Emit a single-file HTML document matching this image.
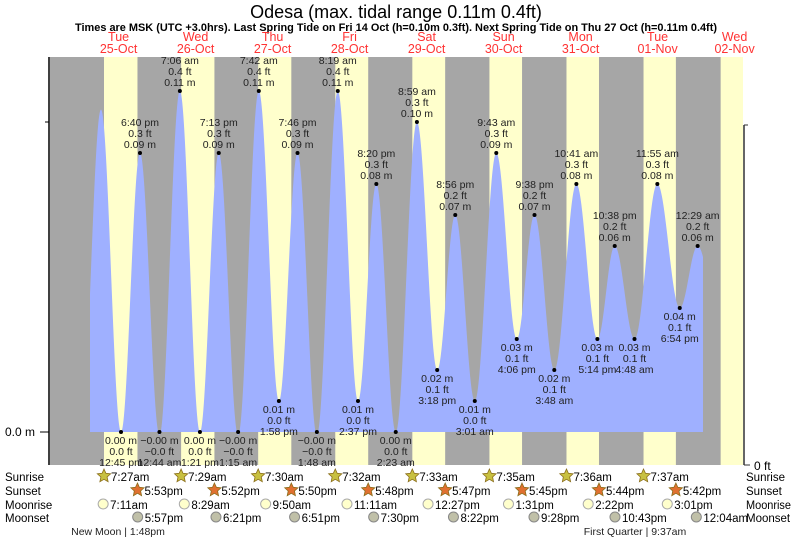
<!DOCTYPE html>
<html><head><meta charset="utf-8"><style>
body{margin:0;background:#fff;}
svg text{font-family:"Liberation Sans",sans-serif;}
</style></head><body>
<svg id="chart" width="793" height="539" viewBox="0 0 793 539" xmlns="http://www.w3.org/2000/svg">
<text x="396" y="18" font-size="18" text-anchor="middle" fill="#000">Odesa (max. tidal range 0.11m 0.4ft)</text>
<text x="75" y="31" font-size="11" font-weight="bold" textLength="642" lengthAdjust="spacingAndGlyphs" fill="#000">Times are MSK (UTC +3.0hrs). Last Spring Tide on Fri 14 Oct (h=0.10m 0.3ft). Next Spring Tide on Thu 27 Oct (h=0.11m 0.4ft)</text>
<g id="bands"></g>
<path id="tide" fill="#9fb0ff"></path>
<g id="marks"></g>
<line x1="49" y1="57" x2="49" y2="465" stroke="#000" stroke-width="1.5"/>
<line x1="45" y1="122" x2="49" y2="122" stroke="#000"/>
<line x1="40" y1="432" x2="49" y2="432" stroke="#000"/>
<text x="5" y="436" font-size="12">0.0 m</text>
<line x1="744" y1="125" x2="744" y2="465" stroke="#333" stroke-width="1.5"/>
<line x1="744" y1="125" x2="748" y2="125" stroke="#333"/>
<line x1="744" y1="465" x2="750" y2="465" stroke="#333"/>
<text x="754" y="470" font-size="12">0 ft</text>
<g font-size="11.5" fill="#000">
<text x="5" y="481">Sunrise</text>
<text x="5" y="495">Sunset</text>
<text x="5" y="509">Moonrise</text>
<text x="5" y="522">Moonset</text>
<text x="746" y="481">Sunrise</text>
<text x="746" y="495">Sunset</text>
<text x="746" y="509" textLength="45" lengthAdjust="spacingAndGlyphs">Moonrise</text>
<text x="746" y="522">Moonset</text>
</g>
<g font-size="10.5" fill="#222">
<text x="118" y="535" text-anchor="middle">New Moon | 1:48pm</text>
<text x="635" y="535" text-anchor="middle">First Quarter | 9:37am</text>
</g>
<g id="astro"></g>
</svg>
<script>
// data
const dayNames = ["Tue","Wed","Thu","Fri","Sat","Sun","Mon","Tue","Wed"];
const dayDates = ["25-Oct","26-Oct","27-Oct","28-Oct","29-Oct","30-Oct","31-Oct","01-Nov","02-Nov"];
const sunriseH = [7.45,7.483,7.5,7.533,7.55,7.583,7.6,7.617,7.65];
const sunsetH = [17.883,17.867,17.833,17.8,17.783,17.75,17.733,17.7,17.683];
const sunriseLabels = ["7:27am","7:29am","7:30am","7:32am","7:33am","7:35am","7:36am","7:37am"];
const sunsetLabels = ["5:53pm","5:52pm","5:50pm","5:48pm","5:47pm","5:45pm","5:44pm","5:42pm"];
const moonriseH = [7.183,8.483,9.833,11.183,12.45,13.517,14.367,15.017];
const moonriseLabels = ["7:11am","8:29am","9:50am","11:11am","12:27pm","1:31pm","2:22pm","3:01pm"];
const moonsetH = [17.95,18.35,18.85,19.5,20.367,21.467,22.717,24.067];
const moonsetLabels = ["5:57pm","6:21pm","6:51pm","7:30pm","8:22pm","9:28pm","10:43pm","12:04am"];
// tide extremes: hours since 25-Oct 00:00, height in m
const tideHours = [0.25,6.5,12.75,18.667,24.733,31.1,37.35,43.217,49.25,55.7,61.967,67.767,73.8,80.317,86.617,92.333,98.383,104.983,111.3,116.933,123.017,129.717,136.1,141.633,147.8,154.683,161.233,166.633,172.8,179.917,186.9,192.483,198.5];
const tideHeights = [0.0,0.104,0.0,0.09,-0.001,0.11,0.0,0.09,-0.001,0.11,0.01,0.09,-0.001,0.11,0.01,0.08,0.0,0.10,0.02,0.07,0.01,0.09,0.03,0.07,0.02,0.08,0.03,0.06,0.03,0.08,0.04,0.06,0.04];
const tideLabels = ["","","12:45 pm","6:40 pm","12:44 am","7:06 am","1:21 pm","7:13 pm","1:15 am","7:42 am","1:58 pm","7:46 pm","1:48 am","8:19 am","2:37 pm","8:20 pm","2:23 am","8:59 am","3:18 pm","8:56 pm","3:01 am","9:43 am","4:06 pm","9:38 pm","3:48 am","10:41 am","5:14 pm","10:38 pm","4:48 am","11:55 am","6:54 pm","12:29 am",""];

const NS="http://www.w3.org/2000/svg";
const X0=50, X1=743, YT=57, YB=465, Y0=432;
function xs(h){return 80.1+77*h/24;}
function ys(m){return Y0-m*3100;}
function mk(tag,attrs,parent){const e=document.createElementNS(NS,tag);for(const k in attrs)e.setAttribute(k,attrs[k]);parent.appendChild(e);return e;}
const bands=document.getElementById('bands'), marks=document.getElementById('marks'), astro=document.getElementById('astro'), svg=document.getElementById('chart');

const night=mk('rect',{x:X0,y:YT,width:X1-X0,height:YB-YT,fill:'#a6a6a6'},bands);


for(let d=0;d<dayNames.length;d++){
  let a=xs(d*24+sunriseH[d]), b=Math.min(X1,xs(d*24+sunsetH[d]));
  if(a<X1){
    const r=mk('rect',{x:a,y:YT,width:b-a,height:YB-YT,fill:'#ffffcc'},bands);
    
    
  }
  const cx=xs(d*24+12);
  const t1=mk('text',{x:cx,y:41,'font-size':12.5,'text-anchor':'middle',fill:'#ff3333'},svg);
  t1.textContent=dayNames[d];
  
  
  const t2=mk('text',{x:cx,y:53,'font-size':12.5,'text-anchor':'middle',fill:'#ff3333'},svg);
  t2.textContent=dayDates[d];
  
  
}

function heightAt(h){
  for(let i=0;i<tideHours.length-1;i++){
    if(h>=tideHours[i]&&h<=tideHours[i+1]){
      const f=(h-tideHours[i])/(tideHours[i+1]-tideHours[i]);
      return tideHeights[i]+(tideHeights[i+1]-tideHeights[i])*(1-Math.cos(Math.PI*f))/2;
    }
  }
  return tideHeights[tideHeights.length-1];
}
const hStart=(90-80.1)*24/77, hEnd=(703-80.1)*24/77;
let p='M90,'+Y0;
for(let h=hStart;h<=hEnd;h+=0.1){p+=' L'+xs(h).toFixed(2)+','+ys(heightAt(h)).toFixed(2);}
p+=' L703,'+ys(heightAt(hEnd)).toFixed(2)+' L703,'+Y0+' Z';
document.getElementById('tide').setAttribute('d',p);

for(let i=0;i<tideHours.length;i++){
  if(!tideLabels[i]) continue;
  const x=xs(tideHours[i]), m=tideHeights[i], y=ys(Math.max(m,0));
  const high=(i>0&&m>tideHeights[i-1]);
  const dot=mk('circle',{cx:x,cy:y,r:2,fill:'#000'},marks);
  
  
  const mtxt=m.toFixed(2).replace('-','\u2212')+' m';
  const ftxt=(m*3.28084).toFixed(1).replace('-','\u2212')+' ft';
  const lines=high?[tideLabels[i],ftxt,mtxt]:[mtxt,ftxt,tideLabels[i]];
  const base=high?y-27:y+12;
  lines.forEach((s,k)=>{
    const t=mk('text',{x:x,y:base+k*11,'font-size':10.5,'text-anchor':'middle',fill:'#222'},marks);
    t.textContent=s;
    
    
  });
}

function star(cx,cy,fill,name){
  let pts=[];
  for(let k=0;k<10;k++){const r=k%2?3.3:7,a=-Math.PI/2+k*Math.PI/5;pts.push((cx+r*Math.cos(a)).toFixed(1)+','+(cy+r*Math.sin(a)).toFixed(1));}
  const s=mk('polygon',{points:pts.join(' '),fill:fill,stroke:'#8a6d1a','stroke-width':0.8},astro);
  
  
}
function lbl(x,y,s,name){
  const t=mk('text',{x:x,y:y,'font-size':11.5,fill:'#000'},astro);
  t.textContent=s;
  
  
}
for(let d=0;d<sunriseLabels.length;d++){
  let x=xs(d*24+sunriseH[d]); star(x,476,'#c8c040','sunrise-icon'); lbl(x+7,481,sunriseLabels[d],'sunrise-time');
  x=xs(d*24+sunsetH[d]); star(x,490,'#e07030','sunset-icon'); lbl(x+7,495,sunsetLabels[d],'sunset-time');
  x=xs(d*24+moonriseH[d]);
  const c1=mk('circle',{cx:x,cy:504,r:5,fill:'#ffffcc',stroke:'#aaa'},astro);
  
  
  lbl(x+7,509,moonriseLabels[d],'moonrise-time');
  x=xs(d*24+moonsetH[d]);
  const c2=mk('circle',{cx:x,cy:517,r:5,fill:'#c0c0a8',stroke:'#888'},astro);
  
  
  lbl(x+7,522,moonsetLabels[d],'moonset-time');
}
</script>
</body></html>
